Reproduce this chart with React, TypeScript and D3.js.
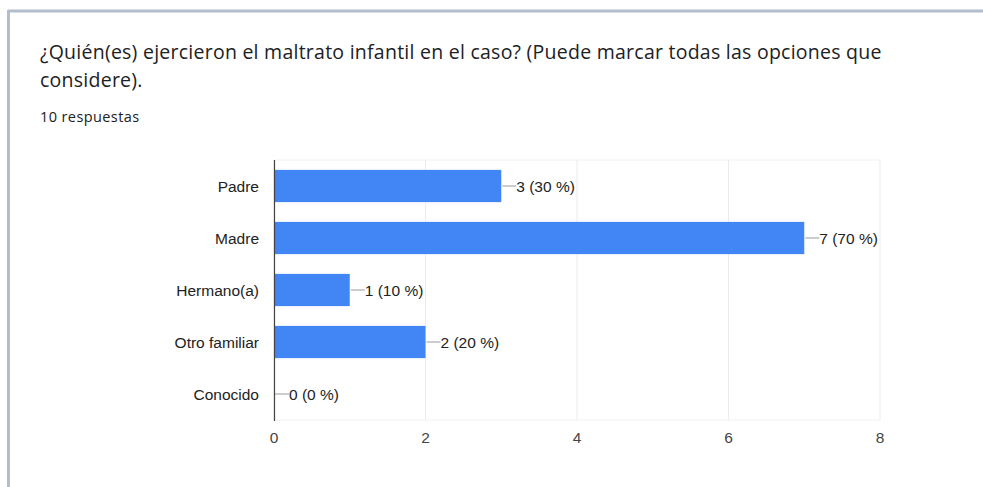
import React from "react";
import * as d3 from "d3";

const categories = ["Padre", "Madre", "Hermano(a)", "Otro familiar", "Conocido"];
const counts = [3, 7, 1, 2, 0];
const percents = [30, 70, 10, 20, 0];
const xTicks = [0, 2, 4, 6, 8];
const titleLines = [
  "¿Quién(es) ejercieron el maltrato infantil en el caso? (Puede marcar todas las opciones que",
  "considere).",
];
const subtitle = "10 respuestas";

export default function App() {
  const W = 983, H = 487;
  const x = d3.scaleLinear().domain([0, 8]).range([274, 880]);
  const y = d3.scaleBand().domain(categories).range([160, 420]).paddingInner(0.38).paddingOuter(0.19);
  const font = "'Open Sans', Roboto, sans-serif";
  const chartFont = "Arial, 'Liberation Sans', sans-serif";
  return (
    <svg width={W} height={H} style={{ position: "absolute", left: 0, top: 0, background: "#fff" }}>
      <rect x={0} y={0} width={W} height={H} fill="#fff" />
      <line x1={8} x2={W} y1={11} y2={11} stroke="#b3bdcc" strokeWidth={3} />
      <line x1={8.5} x2={8.5} y1={10} y2={H} stroke="#b3bdcc" strokeWidth={3} />
      {titleLines.map((t, i) => (
        <text key={i} x={40} y={59 + i * 28} fontFamily={font} fontSize={19.5} letterSpacing={0.25} fill="#202124">{t}</text>
      ))}
      <text x={40} y={122} fontFamily={font} fontSize={14.5} letterSpacing={0.4} fill="#202124">{subtitle}</text>
      {xTicks.map((t) => (
        <line key={"g" + t} x1={x(t)} x2={x(t)} y1={160} y2={420} stroke="#ebebeb" strokeWidth={1} />
      ))}
      <line x1={274} x2={880} y1={160} y2={160} stroke="#f2f2f2" />
      <line x1={274} x2={880} y1={420} y2={420} stroke="#f2f2f2" />
      {categories.map((c, i) => {
        const yy = y(c)!;
        const bw = y.bandwidth();
        const cy = yy + bw / 2;
        const xe = x(counts[i]);
        return (
          <g key={c}>
            <text x={259} y={cy + 5.5} textAnchor="end" fontFamily={chartFont} fontSize={15.5} fill="#222">{c}</text>
            {counts[i] > 0 && <rect x={x(0)} y={yy} width={xe - x(0)} height={bw} fill="#4285f4" />}
            <line x1={xe + 1} x2={xe + 15} y1={cy} y2={cy} stroke="#bdbdbd" strokeWidth={1.5} />
            <text x={xe + 15} y={cy + 5.5} fontFamily={chartFont} fontSize={15.5} fill="#222">
              {`${counts[i]} (${percents[i]} %)`}
            </text>
          </g>
        );
      })}
      <line x1={274.5} x2={274.5} y1={160} y2={421} stroke="#444" strokeWidth={1.2} />
      {xTicks.map((t) => (
        <text key={"t" + t} x={x(t)} y={443} textAnchor="middle" fontFamily={chartFont} fontSize={15.5} fill="#444">{t}</text>
      ))}
    </svg>
  );
}
